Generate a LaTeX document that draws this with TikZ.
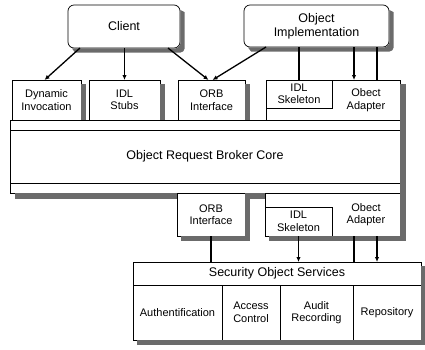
\documentclass[tikz,border=0pt]{standalone}
\usepackage{fontspec}
\setmainfont{Liberation Sans}
\usetikzlibrary{arrows.meta}
\definecolor{shadowgray}{gray}{0.42}
\tikzset{
  bx/.style={draw, fill=white, inner sep=0pt, outer sep=0pt, line width=0.7pt, align=center, anchor=north west, font=\fontsize{11}{12.5}\selectfont},
  lbl/.style={inner sep=0pt, outer sep=0pt, align=center, anchor=north west, font=\fontsize{11}{12.5}\selectfont},
  big/.style={font=\fontsize{12.5}{14}\selectfont},
  conn/.style={line width=1.3pt},
  arr/.style={line width=1.3pt, -{Latex[length=5pt,width=4.5pt]}},
  shd/.style={fill=shadowgray, draw=none}
}
\begin{document}
\begin{tikzpicture}[x=1pt,y=-1pt]
\useasboundingbox (0,0) rectangle (425,349);
% top rounded boxes
\node[bx, big, rounded corners=6pt, minimum width=112pt, minimum height=43pt] (client) at (68,5) {Client};
\node[bx, big, rounded corners=6pt, minimum width=145pt, minimum height=42pt] (impl) at (244,5) {Object\\Implementation};
% upper interface row
\node[bx, minimum width=69pt, minimum height=40pt] (dyn) at (12,80) {Dynamic\\Invocation};
\node[bx, minimum width=71pt, minimum height=40pt] (stubs) at (89,80) {IDL\\Stubs};
\node[bx, minimum width=67pt, minimum height=40pt] (orb) at (178,80) {ORB\\Interface};
\node[bx, minimum width=134pt, minimum height=40pt] (grp) at (266,80) {};
\node[bx, minimum width=66pt, minimum height=28pt] (skel) at (266,80) {IDL\\Skeleton};
\node[lbl, minimum width=68pt, minimum height=40pt] (adapt) at (332,80) {Obect\\Adapter};
% core
\node[bx, big, minimum width=390pt, minimum height=73pt] (core) at (10,120) {Object Request Broker Core};
\draw[line width=0.7pt] ([yshift=-10pt]core.north west) -- ([yshift=-10pt]core.north east);
\draw[line width=0.7pt] ([yshift=10pt]core.south west) -- ([yshift=10pt]core.south east);
% lower interface row
\node[bx, minimum width=68pt, minimum height=43pt] (orbl) at (177,193) {ORB\\Interface};
\node[bx, minimum width=135pt, minimum height=43pt] (grpl) at (265,193) {};
\node[bx, minimum width=67pt, minimum height=29pt] (skell) at (265,207) {IDL\\Skeleton};
\node[lbl, minimum width=68pt, minimum height=43pt] (adaptl) at (332,193) {Obect\\Adapter};
% security services
\node[bx, big, minimum width=288pt, minimum height=23pt] (sechead) at (133,262) {Security Object Services};
\node[bx, minimum width=89pt, minimum height=55pt] (auth) at (133,285) {Authentification};
\node[bx, minimum width=58pt, minimum height=55pt] (acc) at (222,285) {Access\\Control};
\node[bx, minimum width=73pt, minimum height=55pt] (aud) at (280,285) {Audit\\Recording};
\node[bx, minimum width=68pt, minimum height=55pt] (rep) at (353,285) {Repository};
% shadows (visible parts only)
\path[shd] (180.4,10) -- (184.5,12) -- (184.5,49) [rounded corners=4pt] -- (184.5,52.5) [sharp corners] -- (75,52.5) -- (72,48.4) -- (176,48.4) [rounded corners=5pt] -- (180.4,48.4) [sharp corners] -- cycle;
\path[shd] (389.4,10) -- (393.5,12) -- (393.5,48) [rounded corners=4pt] -- (393.5,51.5) [sharp corners] -- (251,51.5) -- (248,47.4) -- (385,47.4) [rounded corners=5pt] -- (389.4,47.4) [sharp corners] -- cycle;
\path[shd] (81.4,84) rectangle (85.5,119.6);
\path[shd] (160.4,84) rectangle (164.5,119.6);
\path[shd] (245.4,84) rectangle (249.5,119.6);
\path[shd] (400.4,84) rectangle (405.5,240.5);
\path[shd] (15,193.4) rectangle (176.6,198.5);
\path[shd] (245.4,193.4) rectangle (264.6,198.5);
\path[shd] (245.4,193.4) rectangle (249.5,240.5);
\path[shd] (181,236.4) rectangle (249.5,240.5);
\path[shd] (269,236.4) rectangle (405.5,240.5);
\path[shd] (137,340.4) rectangle (425,344.5);
\path[shd] (421.4,266) rectangle (425,344.5);
% connectors top
\draw[arr] ([xshift=12pt]client.south west) -- ([xshift=-2pt]dyn.north);
\draw[arr] (stubs.north |- client.south) -- (stubs.north);
\draw[arr] ([xshift=-12pt]client.south east) -- ([xshift=-3pt]orb.north);
\draw[arr] ([xshift=22pt]impl.south west) -- ([xshift=1pt]orb.north);
\draw[conn] (skel.north |- impl.south) -- (skel.north);
\draw[arr] ([xshift=-12pt]adapt.north |- impl.south) -- ([xshift=-12pt]adapt.north);
\draw[conn] ([xshift=11pt]adapt.north |- impl.south) -- ([xshift=11pt]adapt.north);
% connectors bottom
\draw[conn] (orbl.south) -- (orbl.south |- sechead.north);
\draw[arr] (skell.south) -- (skell.south |- sechead.north);
\draw[conn] ([xshift=-12pt]adaptl.south) -- ([xshift=-12pt]adaptl.south |- sechead.north);
\draw[arr] ([xshift=11pt]adaptl.south) -- ([xshift=11pt]adaptl.south |- sechead.north);
\end{tikzpicture}
\end{document}
